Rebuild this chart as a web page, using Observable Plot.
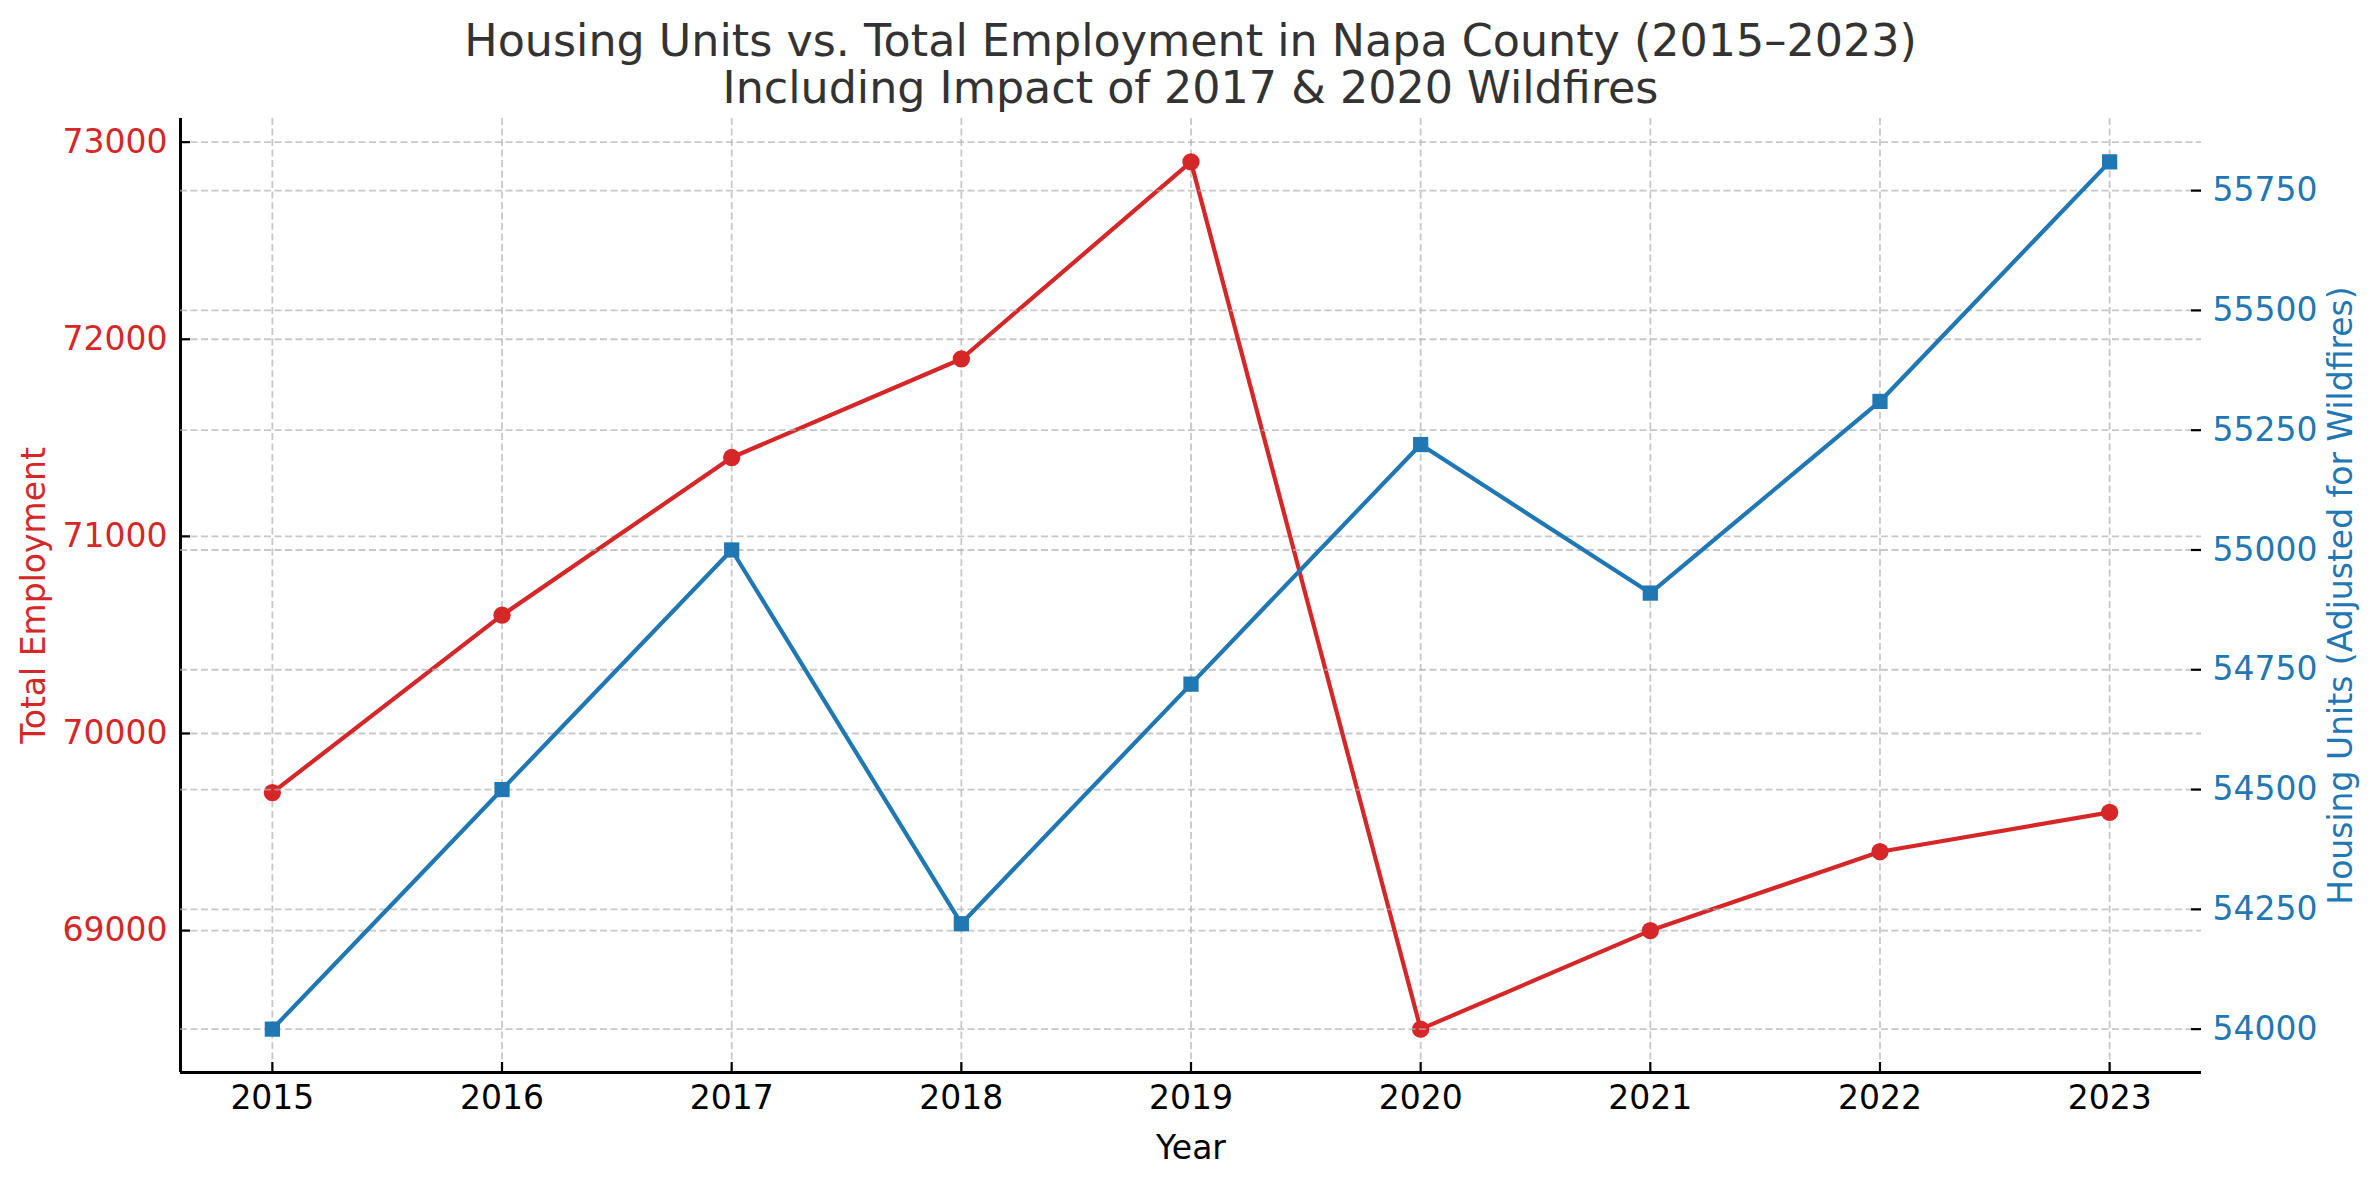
<!DOCTYPE html>
<html>
<head>
<meta charset="utf-8">
<script src="https://cdn.jsdelivr.net/npm/d3@7"></script>
<script src="https://cdn.jsdelivr.net/npm/@observablehq/plot@0.6"></script>
<style>
  body { margin: 0; background: #fff; }
  #fig { position: relative; width: 2379px; height: 1179px; font-family: "DejaVu Sans", sans-serif; overflow: hidden; }
  #fig svg { position: absolute; left: 0; top: 0; }
  #title { position: absolute; left: 0; top: 17px; width: 2381px; text-align: center; font-size: 44.4px; line-height: 47px; color: #333333; white-space: nowrap; z-index: 5; }
</style>
</head>
<body>
<div id="fig"></div>
<script>
// ---- data ----
const years = [2015, 2016, 2017, 2018, 2019, 2020, 2021, 2022, 2023];
const employment = [69700, 70600, 71400, 71900, 72900, 68500, 69000, 69400, 69600];
const housing = [54000, 54500, 55000, 54220, 54720, 55220, 54910, 55310, 55810];
const yearTicks = [2015, 2016, 2017, 2018, 2019, 2020, 2021, 2022, 2023];
const employmentTicks = [69000, 70000, 71000, 72000, 73000];
const housingTicks = [54000, 54250, 54500, 54750, 55000, 55250, 55500, 55750];
const titleLines = ["Housing Units vs. Total Employment in Napa County (2015–2023)", "Including Impact of 2017 & 2020 Wildfires"];
const xLabel = "Year";
const leftLabel = "Total Employment";
const rightLabel = "Housing Units (Adjusted for Wildfires)";

// ---- layout ----
const W = 2379, H = 1179;
const M = {top: 118, right: 178, bottom: 107, left: 180};
const FW = W - M.left - M.right;
const FH = H - M.top - M.bottom;
const pad = ([a, b]) => [a - 0.05 * (b - a), b + 0.05 * (b - a)];
const xDomain = pad(d3.extent(years));
const empDomain = pad(d3.extent(employment));
const housDomain = pad(d3.extent(housing));
const RED = "#d62728", BLUE = "#1f77b4";
const FS = 33;
const grid = {stroke: "#b0b0b0", strokeOpacity: 0.7, strokeWidth: 1.8, strokeDasharray: "7,3.5"};
const empData = years.map((year, i) => ({year, value: employment[i]}));
const housData = years.map((year, i) => ({year, value: housing[i]}));

const common = {
  width: W, height: H,
  marginTop: M.top, marginRight: M.right, marginBottom: M.bottom, marginLeft: M.left
};

const left = Plot.plot({
  ...common,
  style: {fontFamily: "'DejaVu Sans', sans-serif", fontSize: FS + "px", background: "white", overflow: "visible"},
  x: {type: "linear", domain: xDomain},
  y: {type: "linear", domain: empDomain},
  marks: [
    Plot.gridX(yearTicks, grid),
    Plot.gridY(employmentTicks, grid),
    Plot.line(empData, {x: "year", y: "value", stroke: RED, strokeWidth: 4.2}),
    Plot.dot(empData, {x: "year", y: "value", r: 8.65, fill: RED}),
    Plot.ruleX([xDomain[0]], {stroke: "#000", strokeWidth: 3}),
    Plot.ruleY([empDomain[0]], {stroke: "#000", strokeWidth: 3}),
    Plot.tickX(yearTicks, {x: d => d, insetTop: FH - 10, stroke: "#000", strokeWidth: 2.2}),
    Plot.tickY(employmentTicks, {y: d => d, insetRight: FW - 10, stroke: "#000", strokeWidth: 2.2}),
    Plot.axisX({ticks: yearTicks, tickSize: 0, tickPadding: 13, tickFormat: "d", fontSize: FS, fill: "#000", label: null}),
    Plot.axisY({ticks: employmentTicks, tickSize: 0, tickPadding: 13, tickFormat: "d", fontSize: FS, fill: RED, label: null}),
    Plot.text([xLabel], {frameAnchor: "bottom", dy: 86, lineAnchor: "bottom", fontSize: FS, fill: "#000"}),
    Plot.text([leftLabel], {frameAnchor: "left", dx: -146, rotate: -90, textAnchor: "middle", lineAnchor: "middle", fontSize: FS, fill: RED})
  ]
});

const right = Plot.plot({
  ...common,
  style: {fontFamily: "'DejaVu Sans', sans-serif", fontSize: FS + "px", background: "transparent", overflow: "visible"},
  x: {type: "linear", domain: xDomain, axis: null},
  y: {type: "linear", domain: housDomain},
  marks: [
    Plot.gridY(housingTicks, grid),
    Plot.line(housData, {x: "year", y: "value", stroke: BLUE, strokeWidth: 4.2}),
    Plot.dot(housData, {x: "year", y: "value", r: 8.6, symbol: "square", fill: BLUE}),
    Plot.tickY(housingTicks, {y: d => d, insetLeft: FW - 10, stroke: "#000", strokeWidth: 2.2}),
    Plot.axisY({anchor: "right", ticks: housingTicks, tickSize: 0, tickPadding: 11, tickFormat: "d", fontSize: FS, fill: BLUE, label: null}),
    Plot.text([rightLabel], {frameAnchor: "right", dx: 140, rotate: -90, textAnchor: "middle", lineAnchor: "middle", fontSize: FS, fill: BLUE})
  ]
});

const fig = document.getElementById("fig");
fig.appendChild(left);
fig.appendChild(right);
const title = document.createElement("div");
title.id = "title";
titleLines.forEach((t, i) => {
  if (i) title.appendChild(document.createElement("br"));
  title.appendChild(document.createTextNode(t));
});
fig.appendChild(title);
</script>
</body>
</html>
